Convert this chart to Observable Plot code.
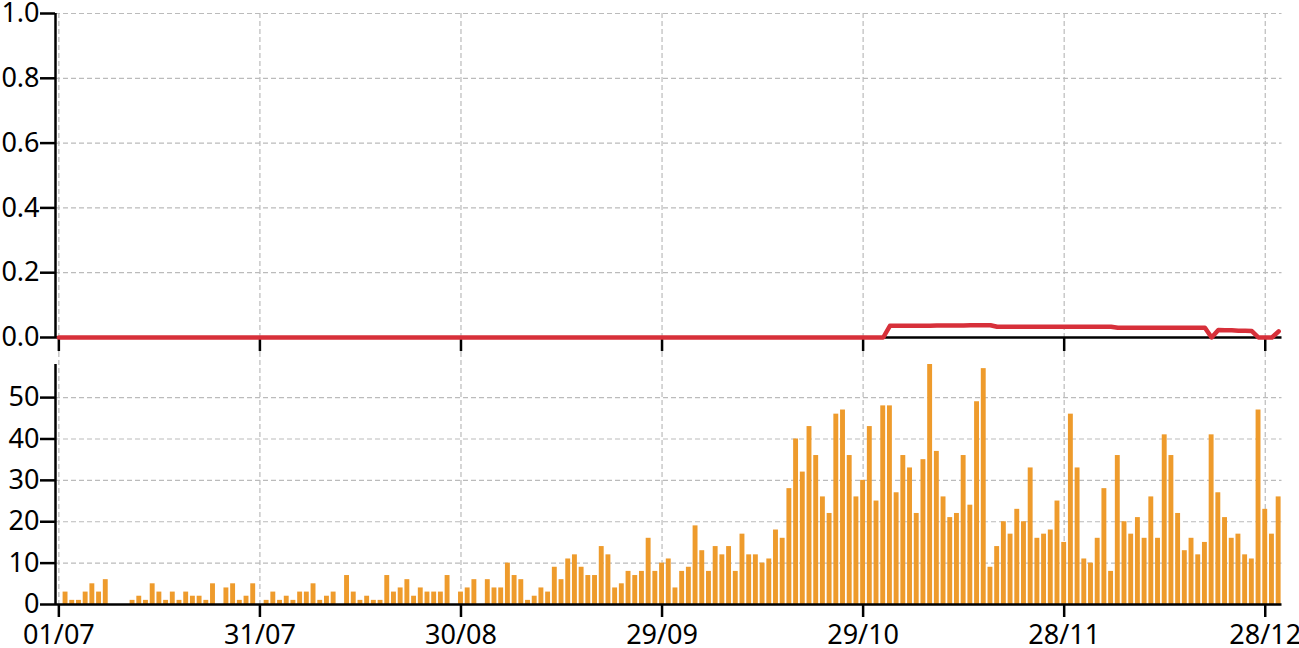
<!DOCTYPE html>
<html>
<head>
<meta charset="utf-8">
<script src="https://cdn.jsdelivr.net/npm/d3@7"></script>
<script src="https://cdn.jsdelivr.net/npm/@observablehq/plot@0.6"></script>
<style>
html, body { margin: 0; padding: 0; background: #fff; }
#chart svg { display: block; }
</style>
</head>
<body>
<div id="chart"></div>
<script>
// ---- data ----
const startDate = "2020-07-01";
const endDate = "2020-12-30";
const xTickLabels = ["2020-07-01", "2020-07-31", "2020-08-30", "2020-09-29", "2020-10-29", "2020-11-28", "2020-12-28"];
const topYTicks = [0, 0.2, 0.4, 0.6, 0.8, 1.0];
const bottomYTicks = [0, 10, 20, 30, 40, 50];

// daily counts, 01/07 .. 30/12
const barCounts = [
  0,
  3,1,1,3,5,3,6,0,0,0,
  1,2,1,5,3,1,3,1,3,2,
  2,1,5,0,4,5,1,2,5,0,
  1,3,1,2,1,3,3,5,1,2,
  3,0,7,3,1,2,1,1,7,3,
  4,6,2,4,3,3,3,7,0,3,
  4,6,0,6,4,4,10,7,6,1,
  2,4,3,9,6,11,12,9,7,7,
  14,12,4,5,8,7,8,16,8,10,
  11,4,8,9,19,13,8,14,12,14,
  8,17,12,12,10,11,18,16,28,40,
  32,43,36,26,22,46,47,36,26,30,
  43,25,48,48,27,36,33,22,35,58,
  37,26,21,22,36,24,49,57,9,14,
  20,17,23,20,33,16,17,18,25,15,
  46,33,11,10,16,28,8,36,20,17,
  21,16,26,16,41,36,22,13,16,12,
  15,41,27,21,16,17,12,11,47,23,
  17,26
];

// daily ratio, 01/07 .. 30/12
const lineValues = [
  0,0,0,0,0,0,0,0,0,0, 0,0,0,0,0,0,0,0,0,0,
  0,0,0,0,0,0,0,0,0,0, 0,0,0,0,0,0,0,0,0,0,
  0,0,0,0,0,0,0,0,0,0, 0,0,0,0,0,0,0,0,0,0,
  0,0,0,0,0,0,0,0,0,0, 0,0,0,0,0,0,0,0,0,0,
  0,0,0,0,0,0,0,0,0,0, 0,0,0,0,0,0,0,0,0,0,
  0,0,0,0,0,0,0,0,0,0, 0,0,0,0,0,0,0,0,0,0,
  0,0,0,0,
  0.036,0.036,0.036,0.036,0.036,0.036,0.036,
  0.037,0.037,0.037,0.037,0.037,
  0.038,0.038,0.038,0.038,
  0.033,0.033,0.033,0.033,0.033,0.033,0.033,0.033,0.033,
  0.033,0.033,0.033,0.033,0.033,0.033,0.033,0.033,0.033,
  0.030,0.030,0.030,0.030,0.030,0.030,0.030,
  0.030,0.030,0.030,0.030,0.030,0.030,0.030,
  0,
  0.023,0.022,0.022,0.021,0.021,0.020,
  0,0,0,
  0.019
];

// ---- build ----
const dates = d3.utcDay.range(new Date(startDate), d3.utcDay.offset(new Date(endDate), 1));
const rows = dates.map((date, i) => ({date, count: barCounts[i], value: lineValues[i]}));
const xTickDates = xTickLabels.map(s => new Date(s));
const halfDay = 12 * 3600 * 1000;
const xDomain = [new Date(+dates[0] - halfDay), new Date(+dates[dates.length - 1] + halfDay)];
const fmtDate = d3.utcFormat("%d/%m");

const gridStyle = {stroke: "#bbbbbb", strokeWidth: 1.2, strokeDasharray: "5,3"};
const baseStyle = {fontFamily: "'Noto Sans', 'Open Sans', sans-serif", fontSize: "27px", color: "#000", background: "#fff", overflow: "visible"};
const W = 1299, ML = 55, MR = 17.5;

const topChart = Plot.plot({
  width: W, height: 352, marginTop: 13, marginBottom: 15, marginLeft: ML, marginRight: MR,
  style: baseStyle,
  x: {type: "utc", domain: xDomain, label: null},
  y: {domain: [0, 1], label: null},
  marks: [
    Plot.ruleY(topYTicks.filter(v => v > 0), gridStyle),
    Plot.ruleX(xTickDates, {...gridStyle, insetBottom: -15}),
    Plot.axisY({ticks: topYTicks, tickFormat: d3.format(".1f"), tickSize: 15, tickPadding: 1, strokeWidth: 2.5, fontSize: 27, label: null}),
    Plot.axisX({ticks: xTickDates, tickSize: 14, tickFormat: () => "", strokeWidth: 2.5, label: null}),
    Plot.ruleX([xDomain[0]], {stroke: "#000", strokeWidth: 2.5}),
    Plot.ruleY([0], {stroke: "#000", strokeWidth: 2.5}),
    Plot.line(rows, {x: "date", y: "value", stroke: "#d7303a", strokeWidth: 4.5, strokeLinejoin: "round"})
  ]
});

const bottomChart = Plot.plot({
  width: W, height: 296, marginTop: 12, marginBottom: 44, marginLeft: ML, marginRight: MR,
  style: baseStyle,
  x: {type: "utc", domain: xDomain, label: null},
  y: {domain: [0, 58], label: null},
  marks: [
    Plot.ruleY(bottomYTicks.filter(v => v > 0), gridStyle),
    Plot.ruleX(xTickDates, {...gridStyle, insetTop: -12}),
    Plot.rectY(rows, {
      x1: d => new Date(+d.date - halfDay),
      x2: d => new Date(+d.date + halfDay),
      y: "count", fill: "#ee9b2c", insetLeft: 0.9, insetRight: 0.9
    }),
    Plot.axisY({ticks: bottomYTicks, tickSize: 15, tickPadding: 1, strokeWidth: 2.5, fontSize: 27, label: null}),
    Plot.axisX({ticks: xTickDates, tickSize: 13, tickPadding: 7, tickFormat: fmtDate, strokeWidth: 2.5, fontSize: 27, label: null}),
    Plot.ruleX([xDomain[0]], {stroke: "#000", strokeWidth: 2.5}),
    Plot.ruleY([0], {stroke: "#000", strokeWidth: 2.5})
  ]
});

const root = document.getElementById("chart");
root.appendChild(topChart);
root.appendChild(bottomChart);
</script>
</body>
</html>
